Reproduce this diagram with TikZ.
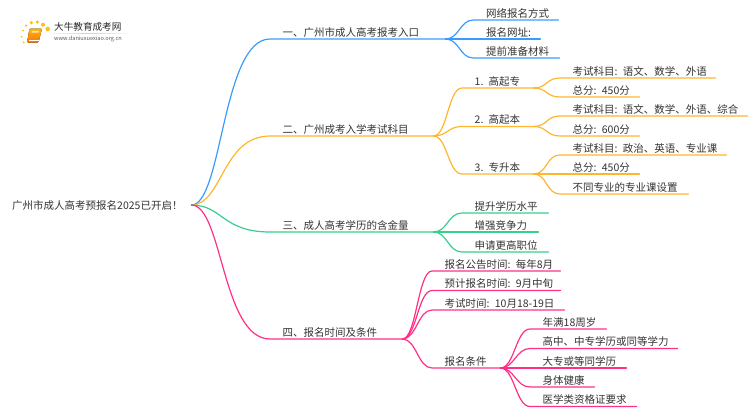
\documentclass[tikz,border=0pt]{standalone}
\usepackage{fontspec}
\setmainfont{Noto Sans CJK SC}[WordSpace=0.75]
\definecolor{cblue}{HTML}{3A9BFF}
\definecolor{corange}{HTML}{FFB52E}
\definecolor{cgreen}{HTML}{36D08E}
\definecolor{cpink}{HTML}{FF2F86}
\definecolor{ctext}{HTML}{333333}
\definecolor{clogo}{HTML}{F9A51A}
\tikzset{
  lab/.style={anchor=south west,inner sep=0pt,text height=9.5pt,text depth=2.8pt,font=\fontsize{10.5pt}{12pt}\selectfont,text=ctext,execute at begin node={\hskip 12.5pt}},
  roottext/.style={anchor=west,inner sep=0pt,text height=10pt,text depth=2pt,font=\fontsize{10.5pt}{12pt}\selectfont,text=ctext},
  link/.style={line width=1.2pt,line cap=round},
  logodot/.style={fill=clogo!70!yellow,draw=none,circle,inner sep=0pt}
}
% parent, name, colour, x of curve end, y of line, line length, text
\newcommand\kid[7]{%
  \node[lab,text width=#6pt] (#2) at (#4,#5) {#7};
  \draw[link,#3] (#1) .. controls +(14,0) and +(-14,0) .. (#2.south west) -- (#2.south east);
}
% name, colour, y of line, line length, text
\newcommand\mainkid[5]{%
  \node[lab,text width=#4pt] (#1) at (270,#3) {#5};
  \draw[link,#2] (root.east) .. controls +(31,0) and +(-48,0) .. (#1.south west) -- (#1.south east);
}
\begin{document}
\begin{tikzpicture}[x=1pt,y=-1pt]
\useasboundingbox (0,0) rectangle (750,410);
% logo
\node[logodot,minimum size=2pt] (d1) at (23,30.5) {};
\node[logodot,minimum size=2.5pt] (d2) at (26,25.7) {};
\node[logodot,minimum size=3.5pt] (d3) at (31.3,22.7) {};
\node[logodot,minimum size=3.5pt] (d4) at (37.3,22) {};
\node[logodot,minimum size=4pt] (d5) at (43,24.7) {};
\node[logodot,minimum size=4.5pt] (d6) at (47.7,29) {};
\node[logodot,minimum size=2pt] (d7) at (21.7,36.7) {};
\node[logodot,minimum size=2pt] (d8) at (23.7,42.3) {};
\fill[top color=clogo!80!yellow,bottom color=orange!90!red,rounded corners=1pt] (29.5,28.5) -- (42,28.5) -- (38.5,42.5) -- (27,42.5) -- cycle;
\draw[white,line width=0.5pt] (28.5,40) -- (38.5,40);
\fill[white!70!clogo] (32,31) -- (39,31) -- (38.6,32.5) -- (31.6,32.5) -- cycle;
\shade[left color=white,right color=white,middle color=black!18] (45,33) rectangle (133,33.7);
\node[inner sep=0pt,anchor=west,font=\fontsize{9.6pt}{11pt}\selectfont,text=black!85] (brand) at (54,27) {大牛教育成考网};
\node[inner sep=0pt,anchor=west,font=\fontsize{5.6pt}{7pt}\selectfont,text=black!65] (site) at (54,39) {www.daniuxuexiao.org.cn};
% root
\node[roottext,text width=179pt] (root) at (12,205) {广州市成人高考预报名2025已开启！};
% main branches
\mainkid{a}{cblue}{39}{175}{一、广州市成人高考报考入口}
\mainkid{b}{corange}{136}{163}{二、广州成考入学考试科目}
\mainkid{c}{cgreen}{232}{163}{三、成人高考学历的含金量}
\mainkid{e}{cpink}{339}{132}{四、报名时间及条件}
% blue
\kid{a.south east}{a1}{cblue}{473.5}{20}{84.5}{网络报名方式}
\kid{a.south east}{a2}{cblue}{473.5}{39}{66.5}{报名网址:}
\kid{a.south east}{a3}{cblue}{473.5}{58}{85.5}{提前准备材料}
% orange
\kid{b.south east}{b1}{corange}{462}{88}{71}{1. 高起专}
\kid{b.south east}{b2}{corange}{462}{126.5}{71}{2. 高起本}
\kid{b.south east}{b3}{corange}{462}{174}{71}{3. 专升本}
\kid{b1.south east}{b11}{corange}{560}{78}{155}{考试科目: 语文、数学、外语}
\kid{b1.south east}{b12}{corange}{560}{97}{79}{总分: 450分}
\kid{b2.south east}{b21}{corange}{560}{116}{187}{考试科目: 语文、数学、外语、综合}
\kid{b2.south east}{b22}{corange}{560}{136}{79}{总分: 600分}
\kid{b3.south east}{b31}{corange}{560}{155}{166}{考试科目: 政治、英语、专业课}
\kid{b3.south east}{b32}{corange}{560}{174}{79}{总分: 450分}
\kid{b3.south east}{b33}{corange}{560}{194}{128}{不同专业的专业课设置}
% green
\kid{c.south east}{c1}{cgreen}{462}{213}{86}{提升学历水平}
\kid{c.south east}{c2}{cgreen}{462}{232}{76}{增强竞争力}
\kid{c.south east}{c3}{cgreen}{462}{252}{86}{申请更高职位}
% pink
\kid{e.south east}{e1}{cpink}{432}{271}{128}{报名公告时间: 每年8月}
\kid{e.south east}{e2}{cpink}{432}{290.5}{128}{预计报名时间: 9月中旬}
\kid{e.south east}{e3}{cpink}{432}{310}{132}{考试时间: 10月18-19日}
\kid{e.south east}{e4}{cpink}{432}{368}{68}{报名条件}
\kid{e4.south east}{e41}{cpink}{530}{329}{76}{年满18周岁}
\kid{e4.south east}{e42}{cpink}{530}{348.5}{147}{高中、中专学历或同等学力}
\kid{e4.south east}{e43}{cpink}{530}{368}{96}{大专或等同学历}
\kid{e4.south east}{e44}{cpink}{530}{387}{64}{身体健康}
\kid{e4.south east}{e45}{cpink}{530}{406.5}{106}{医学类资格证要求}
\end{tikzpicture}
\end{document}
